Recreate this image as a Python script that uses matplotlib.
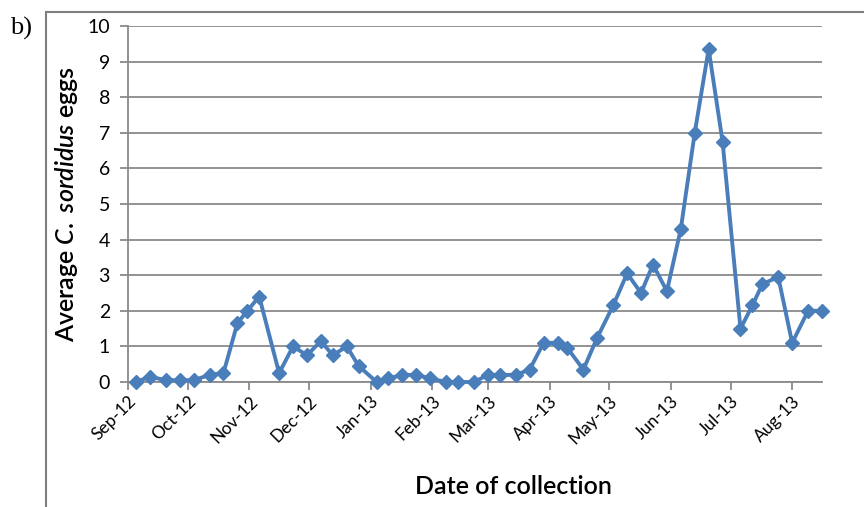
import numpy as np
import pandas as pd
import matplotlib
matplotlib.use("Agg")
import matplotlib.pyplot as plt
import matplotlib.dates as mdates
from matplotlib.lines import Line2D

# collection dates and mean egg counts
dates = [
    "2012-09-05", "2012-09-12", "2012-09-20", "2012-09-27", "2012-10-04",
    "2012-10-12", "2012-10-19", "2012-10-26", "2012-10-31", "2012-11-06",
    "2012-11-16", "2012-11-23", "2012-11-30", "2012-12-07", "2012-12-13",
    "2012-12-20", "2012-12-26", "2013-01-04", "2013-01-10", "2013-01-17",
    "2013-01-24", "2013-01-31", "2013-02-08", "2013-02-14", "2013-02-22",
    "2013-03-01", "2013-03-07", "2013-03-15", "2013-03-22", "2013-03-29",
    "2013-04-05", "2013-04-10", "2013-04-18", "2013-04-25", "2013-05-03",
    "2013-05-10", "2013-05-17", "2013-05-23", "2013-05-30", "2013-06-06",
    "2013-06-13", "2013-06-20", "2013-06-27", "2013-07-06", "2013-07-12",
    "2013-07-17", "2013-07-25", "2013-08-01", "2013-08-09", "2013-08-16",
]
eggs = [
    0.0, 0.15, 0.05, 0.05, 0.05, 0.2, 0.25, 1.65, 2.0, 2.4,
    0.25, 1.0, 0.75, 1.15, 0.75, 1.0, 0.45, 0.0, 0.1, 0.2,
    0.2, 0.1, 0.0, 0.0, 0.0, 0.2, 0.2, 0.2, 0.35, 1.1,
    1.1, 0.95, 0.35, 1.25, 2.15, 3.05, 2.5, 3.3, 2.55, 4.3,
    7.0, 9.35, 6.75, 1.5, 2.15, 2.75, 2.95, 1.1, 2.0, 2.0,
]
y_ticks = list(range(0, 11))

x = pd.to_datetime(dates)

plt.rcParams['font.family'] = ['Lato', 'DejaVu Sans']
plt.rcParams['mathtext.fontset'] = 'custom'
plt.rcParams['mathtext.rm'] = 'Lato:semibold'
plt.rcParams['mathtext.it'] = 'Lato:italic:semibold'

fig = plt.figure(figsize=(8.64, 5.07), dpi=100)
ax = fig.add_axes([128/864, 1-382/507, (822-128)/864, (382-26)/507])

grid_c = '#8a8a8a'
blue = '#4a7ebb'

ax.plot(x, eggs, color=blue, lw=2.8, marker='D', ms=7.5, mec=blue, mfc=blue,
        clip_on=False, zorder=3)

ax.set_ylim(0, 10)
ax.set_yticks(y_ticks)
ax.set_xlim(pd.Timestamp("2012-09-01"), x[-1])
ax.xaxis.set_major_locator(mdates.MonthLocator())
ax.xaxis.set_major_formatter(mdates.DateFormatter('%b-%y'))
ax.yaxis.grid(True, color=grid_c, lw=1.3)
ax.set_axisbelow(True)

for s in ['top', 'right']:
    ax.spines[s].set_visible(False)
for s in ['left', 'bottom']:
    ax.spines[s].set_color(grid_c)
    ax.spines[s].set_linewidth(1.3)

ax.tick_params(axis='both', color=grid_c, width=1.3, length=6, direction='out')
ax.tick_params(axis='y', pad=7, labelsize=14)
ax.tick_params(axis='x', pad=2, labelsize=12.5)
for lab in ax.get_xticklabels():
    lab.set_rotation(45)
    lab.set_ha('right')
    lab.set_rotation_mode('anchor')

ax.set_ylabel(r"Average $\mathit{C.\ sordidus}$ eggs", fontsize=18, fontweight='semibold')
ax.yaxis.set_label_coords(-0.069, 0.5)
ax.set_xlabel("Date of collection", fontsize=18, fontweight='semibold')
ax.xaxis.set_label_coords(0.555, -0.262)

# outer chart frame (only left and top edges show in the crop)
fx = 46/864
fy = 1 - 12/507
fig.add_artist(Line2D([fx, fx], [0, fy], transform=fig.transFigure,
                      color='#7f7f7f', lw=1.5))
fig.add_artist(Line2D([fx, 1], [fy, fy], transform=fig.transFigure,
                      color='#7f7f7f', lw=1.5))

fig.text(10/864, 1-28/507, "b)", fontsize=19, family='Liberation Serif',
         va='center', ha='left')

fig.savefig('out.png', dpi=100)
